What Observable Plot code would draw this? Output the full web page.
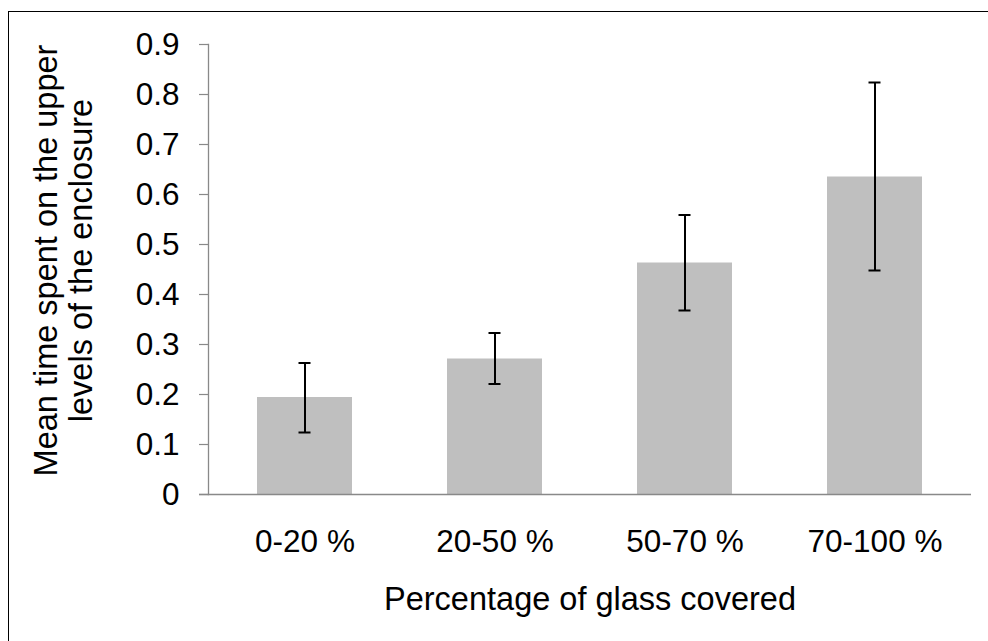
<!DOCTYPE html>
<html>
<head>
<meta charset="utf-8">
<script src="https://cdn.jsdelivr.net/npm/d3@7"></script>
<script src="https://cdn.jsdelivr.net/npm/@observablehq/plot@0.6"></script>
<style>
  html, body { margin: 0; padding: 0; background: #fff; }
  #wrap { position: relative; width: 988px; height: 641px; overflow: hidden; }
  #border { position: absolute; left: 8px; top: 11px; width: 1000px; height: 700px;
            border-left: 1px solid #000; border-top: 1px solid #000; pointer-events: none; }
  svg { font-family: "Liberation Sans", Arial, sans-serif; }
</style>
</head>
<body>
<div id="wrap"><div id="border"></div></div>
<script>
const categories = ["0-20 %", "20-50 %", "50-70 %", "70-100 %"];
const means = [0.194, 0.271, 0.463, 0.635];
const lower = [0.124, 0.221, 0.368, 0.448];
const upper = [0.263, 0.323, 0.559, 0.824];
const yTicks = [0, 0.1, 0.2, 0.3, 0.4, 0.5, 0.6, 0.7, 0.8, 0.9];
const xTitle = "Percentage of glass covered";
const yTitle = "Mean time spent on the upper\nlevels of the enclosure";

const data = categories.map((c, i) => ({cat: c, mean: means[i], lo: lower[i], hi: upper[i]}));
const axisGray = "#898989";
const tickFs = 31.5;
const titleFs = 32.5;

const chart = Plot.plot({
  width: 988,
  height: 641,
  marginLeft: 208,
  marginRight: 17,
  marginTop: 44,
  marginBottom: 147,
  style: {fontFamily: '"Liberation Sans", Arial, sans-serif', background: "transparent", overflow: "visible"},
  x: {domain: categories, paddingInner: 0.5, paddingOuter: 0.25, align: 0.5},
  y: {domain: [0, 0.9]},
  marks: [
    Plot.barY(data, {x: "cat", y: "mean", fill: "#bfbfbf"}),
    Plot.ruleX(data, {x: "cat", y1: "lo", y2: "hi", stroke: "#000", strokeWidth: 2}),
    Plot.tickY(data, {x: "cat", y: "lo", stroke: "#000", strokeWidth: 2, insetLeft: 41.5, insetRight: 41.5}),
    Plot.tickY(data, {x: "cat", y: "hi", stroke: "#000", strokeWidth: 2, insetLeft: 41.5, insetRight: 41.5}),
    Plot.frame({anchor: "left", stroke: axisGray, strokeWidth: 1.3}),
    Plot.ruleY([0], {stroke: axisGray, strokeWidth: 1.3, insetLeft: -9}),
    Plot.axisY({ticks: yTicks, tickFormat: d => d === 0 ? "0" : d3.format(".1f")(d),
      tickSize: 9, tickPadding: 20, stroke: axisGray, strokeWidth: 1.2, strokeOpacity: 1,
      fontSize: tickFs, fill: "#000", label: null}),
    Plot.axisX({tickSize: 0, tickPadding: 35, fontSize: tickFs, fill: "#000", label: null}),
    Plot.text([xTitle], {frameAnchor: "bottom", text: d => d, lineAnchor: "top", dy: 92,
      fontSize: titleFs, fill: "#000"}),
    Plot.text([yTitle], {frameAnchor: "left", text: d => d, rotate: -90, textAnchor: "middle",
      lineAnchor: "middle", lineHeight: 1.08, dx: -145, dy: -9, fontSize: titleFs, fill: "#000"})
  ]
});
document.getElementById("wrap").prepend(chart);
</script>
</body>
</html>
